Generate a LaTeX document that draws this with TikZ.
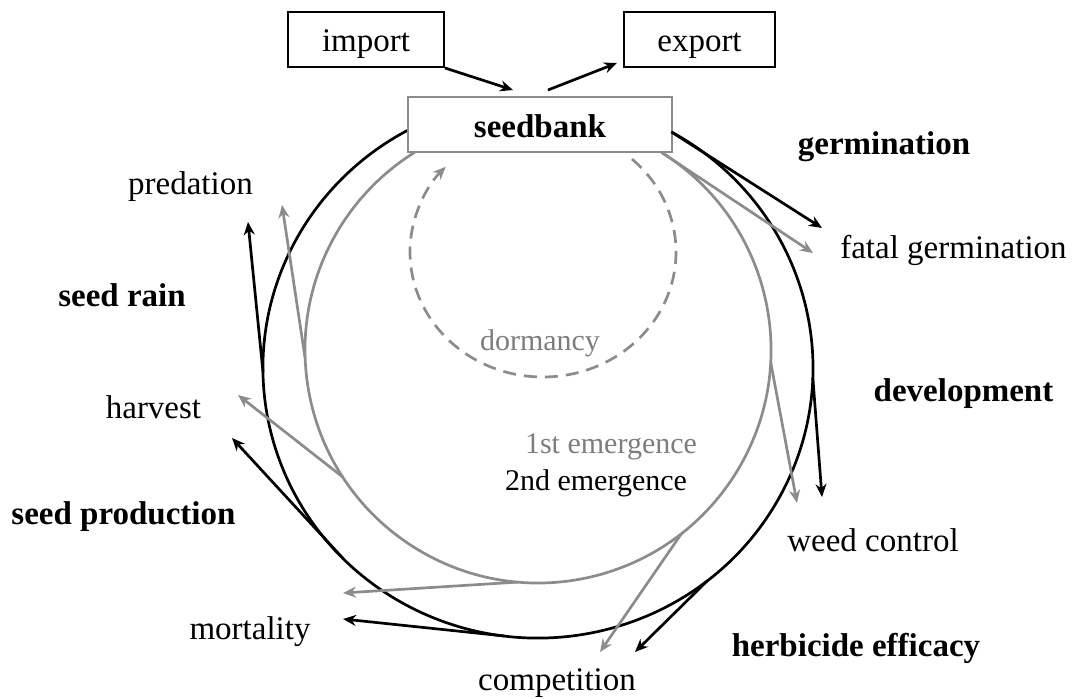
\documentclass[tikz,border=0pt]{standalone}
\usepackage{fontspec}
\setmainfont{Liberation Serif}
\usetikzlibrary{arrows.meta}
\definecolor{lgray}{RGB}{140,140,140}
\definecolor{tgray}{RGB}{125,125,125}
\begin{document}
\begin{tikzpicture}[x=1pt,y=-1pt,
  lbl/.style={font=\fontsize{33}{40}\selectfont, inner sep=0pt, anchor=base},
  blbl/.style={font=\fontsize{33}{40}\selectfont\bfseries, inner sep=0pt, anchor=base},
  ilbl/.style={font=\fontsize{30}{36}\selectfont, inner sep=0pt, anchor=base},
  bline/.style={line width=2.7pt, draw=black},
  gline/.style={line width=2.7pt, draw=lgray},
  barr/.style={bline, -{Stealth[length=13pt,width=11pt]}},
  garr/.style={gline, -{Stealth[length=13pt,width=11pt]}},
  box/.style={draw=black, line width=2pt, fill=white, minimum height=55pt, inner sep=0pt,
    text height=26pt, text depth=3pt, font=\fontsize{33}{40}\selectfont}
]
\useasboundingbox (0,0) rectangle (1072,699);

% cycle circles
\coordinate (bc) at (538,368);
\coordinate (gc) at (538,350);
\coordinate (dc) at (543,252);
\draw[bline] (671.3,131.9) arc[start angle=-61, end angle=242, x radius=275, y radius=270];
\draw[gline] (661.5,152.4) arc[start angle=-58, end angle=238, radius=233];

% dormancy loop
\coordinate (dstart) at (632,159.1);
\draw[lgray, line width=2.7pt, dash pattern=on 13pt off 8pt, -{Stealth[length=13pt,width=11pt]}]
  (dstart) arc[start angle=-48, end angle=223, x radius=133, y radius=125];

% boxes
\node[box, minimum width=156pt] (import) at (366,39.5) {import};
\node[box, minimum width=151pt] (export) at (699.5,39.5) {export};
\node[box, draw=lgray, minimum width=264pt, text height=28pt, text depth=3pt,
  font=\fontsize{33}{40}\selectfont\bfseries] (seedbank) at (540,124.5) {seedbank};

% import / export arrows
\coordinate (impTip) at (513,90);
\coordinate (expStart) at (548,90);
\coordinate (expTip) at (617,63);
\draw[barr] (import.south east) -- (impTip);
\draw[barr] (expStart) -- (expTip);

% branch points on the black cycle
\coordinate (bFG) at (671.3,131.9);
\coordinate (bPr) at (263,372);
\coordinate (bHa) at (343.5,558.9);
\coordinate (bWC) at (812.8,377.4);
\coordinate (bMo) at (504.5,636);
\coordinate (bHe) at (707.3,580.8);
% branch points on the grey cycle
\coordinate (gFG) at (661.5,152.4);
\coordinate (gWC) at (770.7,362.2);
\coordinate (gPr) at (305.1,358.1);
\coordinate (gHa) at (342.6,476.9);
\coordinate (gMo) at (517.7,582.1);
\coordinate (gCo) at (681.5,533.6);

% arrow tips
\coordinate (tbFG) at (822,228);
\coordinate (tgFG) at (813,253);
\coordinate (tbWC) at (822,497);
\coordinate (tgWC) at (797,503);
\coordinate (tbPr) at (248,222);
\coordinate (tgPr) at (282,205);
\coordinate (tbHa) at (232,438);
\coordinate (tgHa) at (238,395);
\coordinate (tbMo) at (343,619);
\coordinate (tgMo) at (343,593);
\coordinate (tbHe) at (635,652);
\coordinate (tgCo) at (600,652);

\draw[barr] (bFG) -- (tbFG);
\draw[garr] (gFG) -- (tgFG);
\draw[barr] (bWC) -- (tbWC);
\draw[garr] (gWC) -- (tgWC);
\draw[barr] (bPr) -- (tbPr);
\draw[garr] (gPr) -- (tgPr);
\draw[barr] (bHa) -- (tbHa);
\draw[garr] (gHa) -- (tgHa);
\draw[barr] (bMo) -- (tbMo);
\draw[garr] (gMo) -- (tgMo);
\draw[barr] (bHe) -- (tbHe);
\draw[garr] (gCo) -- (tgCo);

% labels
\node[lbl] (lpred) at (190.5,194) {predation};
\node[blbl] (lrain) at (122,306) {seed rain};
\node[lbl] (lharv) at (153.5,418) {harvest};
\node[blbl] (lprod) at (123.5,524) {seed production};
\node[lbl] (lmort) at (250,639) {mortality};
\node[lbl] (lcomp) at (557,690.5) {competition};
\node[blbl] (lherb) at (856,656) {herbicide efficacy};
\node[lbl] (lweed) at (873,551) {weed control};
\node[blbl] (ldev) at (963.5,401) {development};
\node[lbl] (lfat) at (953.5,258) {fatal germination};
\node[blbl] (lger) at (884,154) {germination};
\node[ilbl, text=tgray] (ldorm) at (540,350) {dormancy};
\node[ilbl, text=tgray] (lfirst) at (611,453) {1st emergence};
\node[ilbl] (lsecond) at (596,490) {2nd emergence};
\end{tikzpicture}
\end{document}
